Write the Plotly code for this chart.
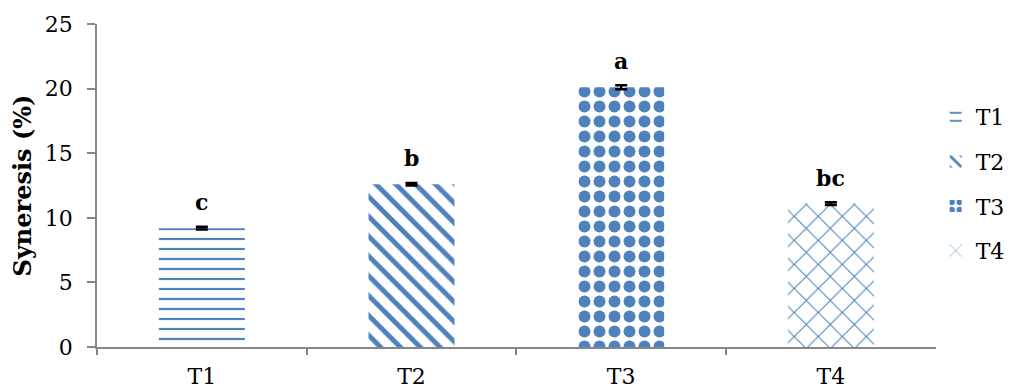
import plotly.graph_objects as go

categories = ["T1", "T2", "T3", "T4"]
values = [9.2, 12.6, 20.1, 11.1]
errors = [0.1, 0.1, 0.15, 0.1]
letters = ["c", "b", "a", "bc"]

blue = "#4F81BD"
FONT = "DejaVu Serif"
patterns = [
    dict(shape="-", size=10, solidity=0.22),
    dict(shape="\\", size=14, solidity=0.35),
    dict(shape=".", size=15, solidity=0.5),
    dict(shape="x", size=17, solidity=0.12),
]

fig = go.Figure()
for i, cat in enumerate(categories):
    fig.add_trace(go.Bar(
        x=[cat], y=[values[i]], name=cat, width=0.41,
        marker=dict(color="white", line=dict(width=0),
                    pattern=dict(fgcolor=blue, bgcolor="white", fillmode="replace", **patterns[i])),
        error_y=dict(type="data", array=[errors[i]], color="black", thickness=2.5, width=6),
        legendgroup=cat,
    ))
    fig.add_annotation(x=cat, y=values[i], text="<b>%s</b>" % letters[i], showarrow=False,
                       yanchor="bottom", yshift=11, font=dict(family=FONT, size=22, color="black"))

# page has an 8px body margin, so the figure is 8px smaller than the window
fig.update_layout(
    width=1004, height=381,
    margin=dict(l=89, r=61, t=16, b=42),
    paper_bgcolor="white", plot_bgcolor="white",
    barmode="overlay",
    font=dict(family=FONT, size=22, color="black"),
    legend=dict(xref="container", yref="container", x=0.924, y=0.769, yanchor="top", xanchor="left",
                font=dict(size=22), tracegroupgap=13, itemwidth=30, bgcolor="rgba(0,0,0,0)"),
    xaxis=dict(showline=True, linecolor="#868686", linewidth=1.5, ticks="outside",
               tickson="boundaries", ticklen=6, tickcolor="#868686", tickwidth=1.5,
               showgrid=False, tickfont=dict(size=22), automargin=False, ticklabelstandoff=9),
    yaxis=dict(range=[0, 25], dtick=5, showline=True, linecolor="#868686", linewidth=1.5,
               ticks="outside", ticklen=8, tickcolor="#868686", tickwidth=1.5, showgrid=False,
               zeroline=False, tickfont=dict(size=22), automargin=False, ticklabelstandoff=10,
               title=dict(text="<b>Syneresis (%)</b>", font=dict(size=24), standoff=6)),
)

fig.write_html("out.html")
